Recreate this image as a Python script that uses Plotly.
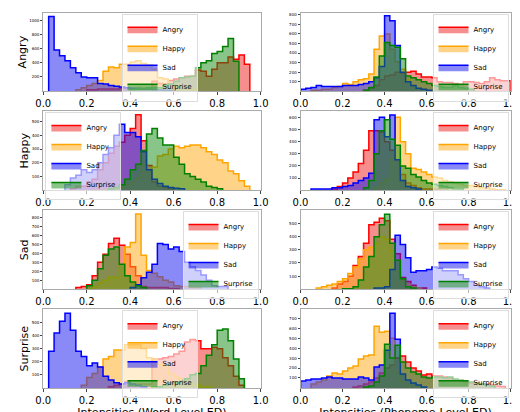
import plotly.graph_objects as go

W = 0.025
EMOTIONS = ["Angry", "Happy", "Sad", "Surprise"]
LINE = {"Angry": "red", "Happy": "orange", "Sad": "blue", "Surprise": "green"}
FILL = {"Angry": "rgba(240,30,30,0.5)", "Happy": "rgba(255,170,20,0.5)",
        "Sad": "rgba(20,20,240,0.5)", "Surprise": "rgba(20,140,20,0.5)"}

# (start, counts per 0.025 bin)
word_angry = {
    "Angry": (0.2, [20, 20, 30, 30, 30, 30, 40, 40, 40, 40, 30, 40, 140, 110, 100, 150, 170, 190, 210, 210, 300, 280, 210, 310, 400, 400, 480, 450, 510, 380]),
    "Happy": (0.15, [20, 50, 80, 110, 150, 280, 340, 330, 380, 380, 410, 430, 390, 370, 310, 190, 170, 100, 80, 60, 50, 30]),
    "Sad": (0.025, [1050, 580, 500, 430, 330, 260, 200, 190, 190, 110, 100, 80, 70, 60, 50, 40, 40, 30, 30, 20, 20, 15, 10]),
    "Surprise": (0.4, [20, 30, 40, 50, 50, 50, 80, 100, 140, 190, 200, 210, 330, 400, 430, 530, 560, 630, 740, 420]),
}
word_happy = {
    "Angry": (0.125, [10, 30, 30, 60, 80, 150, 200, 270, 320, 350, 400, 450, 550, 360, 180, 60, 30, 20, 10]),
    "Happy": (0.25, [5, 5, 10, 10, 20, 40, 60, 90, 190, 130, 170, 250, 260, 300, 320, 310, 320, 330, 330, 310, 280, 260, 220, 200, 140, 120, 70, 30]),
    "Sad": (0.1, [40, 90, 110, 150, 130, 150, 200, 260, 310, 400, 480, 420, 420, 390, 280, 150, 80, 50, 30, 20, 15, 10]),
    "Surprise": (0.3, [10, 20, 40, 80, 150, 190, 290, 410, 450, 380, 330, 330, 240, 190, 120, 100, 80, 60, 30, 20, 10]),
}
word_sad = {
    "Angry": (0.15, [20, 30, 50, 150, 300, 390, 510, 570, 490, 390, 250, 150, 30, 20, 20, 20, 20, 10, 10]),
    "Happy": (0.2, [10, 30, 70, 100, 140, 130, 280, 470, 520, 840, 380, 210, 180, 140, 100, 80, 40, 30, 30, 20, 20]),
    "Sad": (0.4, [20, 50, 130, 190, 280, 510, 500, 450, 470, 420, 300, 250, 210, 160, 100, 40, 30, 30]),
    "Surprise": (0.2, [40, 100, 230, 380, 450, 470, 280, 150, 80, 40, 20]),
}
word_surprise = {
    "Angry": (0.3, [10, 20, 30, 50, 30, 30, 30, 30, 220, 220, 230, 240, 260, 280, 350, 370, 360, 300, 300, 310, 300, 230, 170, 90, 20]),
    "Happy": (0.175, [20, 80, 110, 160, 220, 240, 290, 290, 330, 330, 330, 300, 230, 220, 180, 170, 110, 90, 70, 50, 30, 20, 10, 10]),
    "Sad": (0.025, [280, 420, 510, 570, 440, 280, 240, 170, 190, 160, 90, 60, 40, 30, 40, 30, 20, 10]),
    "Surprise": (0.5, [10, 10, 20, 40, 40, 50, 70, 100, 110, 170, 250, 330, 440, 450, 360, 220, 70]),
}
phon_angry = {
    "Angry": (0.3, [10, 30, 60, 120, 160, 170, 200, 190, 200, 210, 180, 150, 150, 140, 100, 90, 90, 80, 70, 100, 100, 90, 80, 100, 140, 120, 110, 110]),
    "Happy": (0.05, [10, 10, 20, 20, 40, 50, 80, 70, 100, 120, 130, 180, 440, 580, 600, 440, 310, 230, 120, 60, 30, 20]),
    "Sad": (0.0, [20, 30, 40, 60, 50, 50, 50, 50, 60, 60, 60, 70, 80, 100, 140, 260, 790, 740, 480, 200, 100, 60, 30, 20, 10]),
    "Surprise": (0.3, [10, 40, 150, 370, 510, 480, 460, 340, 160, 140, 120, 100, 80, 60, 50, 40, 40, 60, 40, 30, 20]),
}
phon_happy = {
    "Angry": (0.15, [10, 30, 60, 100, 150, 220, 330, 490, 490, 480, 400, 330, 250, 130, 60, 40, 20, 10, 10, 10, 10, 10]),
    "Happy": (0.35, [20, 60, 90, 270, 600, 400, 300, 180, 170, 150, 130, 110, 100, 80, 70, 60, 50, 40, 40, 30, 20, 20, 10, 5, 5]),
    "Sad": (0.05, [10, 10, 10, 10, 20, 20, 30, 40, 60, 80, 100, 140, 580, 600, 440, 620, 250, 80, 30, 20, 10]),
    "Surprise": (0.3, [20, 80, 300, 490, 580, 420, 370, 200, 180, 130, 110, 80, 60, 50, 40, 30, 20, 10, 10]),
}
phon_sad = {
    "Angry": (0.15, [10, 40, 60, 100, 180, 250, 350, 490, 510, 540, 520, 380, 270, 90, 60, 30, 10, 10]),
    "Happy": (0.075, [10, 20, 30, 40, 60, 80, 120, 170, 230, 300, 320, 350, 400, 380, 290, 140, 60, 40, 20, 10]),
    "Sad": (0.35, [10, 10, 20, 150, 410, 340, 240, 130, 140, 140, 150, 170, 160, 140, 140, 140, 110, 80, 60, 30, 20, 10]),
    "Surprise": (0.2, [5, 5, 20, 70, 170, 250, 400, 490, 570, 350, 220, 80, 20, 10]),
}
phon_surprise = {
    "Angry": (0.25, [10, 20, 40, 60, 100, 150, 200, 230, 300, 320, 260, 200, 170, 130, 140, 120, 120, 110, 100, 80, 70, 60, 50, 50, 40, 40, 30, 20, 15]),
    "Happy": (0.05, [40, 60, 80, 120, 150, 140, 170, 200, 220, 290, 320, 330, 620, 560, 570, 500, 160, 60, 30, 20, 10]),
    "Sad": (0.0, [70, 80, 90, 90, 100, 110, 100, 100, 90, 90, 90, 110, 100, 80, 210, 230, 380, 750, 490, 140, 80, 50, 30, 10]),
    "Surprise": (0.3, [10, 20, 60, 120, 440, 300, 430, 260, 200, 160, 140, 110, 100, 110, 110, 100, 110, 90, 80, 70, 60, 50, 40, 30, 20]),
}

panels = [
    (word_angry, 0, 0, "Angry", [200, 400, 600, 800, 1000], 1100, (0.36, 0.99, "left")),
    (phon_angry, 0, 1, None, [100, 200, 300, 400, 500, 600, 700, 800], 820, (0.99, 0.99, "right")),
    (word_happy, 1, 0, "Happy", [100, 200, 300, 400, 500], 575, (0.01, 0.99, "left")),
    (phon_happy, 1, 1, None, [100, 200, 300, 400, 500, 600], 650, (0.99, 0.99, "right")),
    (word_sad, 2, 0, "Sad", [100, 200, 300, 400, 500, 600, 700, 800], 880, (0.99, 0.99, "right")),
    (phon_sad, 2, 1, None, [100, 200, 300, 400, 500], 600, (0.99, 0.99, "right")),
    (word_surprise, 3, 0, "Surprise", [100, 200, 300, 400, 500], 600, (0.36, 0.99, "left")),
    (phon_surprise, 3, 1, None, [100, 200, 300, 400, 500, 600, 700], 790, (0.99, 0.99, "right")),
]

XDOM = [(0.035, 0.477), (0.558, 0.985)]
ROWS = [(0.8, 0.995), (0.553, 0.75), (0.306, 0.503), (0.06, 0.256)]

fig = go.Figure()
layout = {}
for k, (data, r, c, ylabel, yt, ymax, leg) in enumerate(panels):
    idx = k + 1
    sfx = "" if idx == 1 else str(idx)
    lname = "legend" if idx == 1 else "legend%d" % idx
    for e in EMOTIONS:
        s, vals = data[e]
        xs = [s] + [s + i * W for i in range(len(vals))] + [s + len(vals) * W]
        ys = [0] + list(vals) + [0]
        fig.add_trace(go.Scatter(x=xs, y=ys, mode="lines", line=dict(shape="hv", color=LINE[e], width=1.5),
                                 fill="tozeroy", fillcolor=FILL[e], name=e, legend=lname,
                                 xaxis="x" + sfx, yaxis="y" + sfx))
    d = XDOM[c]
    rr = ROWS[r]
    layout["xaxis" + sfx] = dict(domain=d, anchor="y" + sfx, range=[0, 1], tickvals=[0, 0.2, 0.4, 0.6, 0.8, 1.0],
                                 ticktext=["0.0", "0.2", "0.4", "0.6", "0.8", "1.0"], showline=True, mirror=True,
                                 linecolor="#aaaaaa", ticks="outside", ticklen=3, tickfont=dict(size=10, color="black"),
                                 showgrid=False, zeroline=False,
                                 title=dict(text=("Intensities (Word-Level ED)" if c == 0 else "Intensities (Phoneme-Level ED)") if r == 3 else None,
                                            font=dict(size=11), standoff=0))
    layout["yaxis" + sfx] = dict(domain=rr, anchor="x" + sfx, range=[0, ymax], tickvals=yt, showline=True, mirror=True,
                                 linecolor="#aaaaaa", ticks="outside", ticklen=2, tickfont=dict(size=4, color="black"),
                                 showgrid=False, zeroline=False,
                                 title=dict(text=ylabel, font=dict(size=11), standoff=0) if ylabel else None)
    lx = d[0] + leg[0] * (d[1] - d[0])
    ly = rr[0] + leg[1] * (rr[1] - rr[0])
    layout[lname] = dict(x=lx, y=ly, xanchor=leg[2], yanchor="top", bgcolor="rgba(255,255,255,0.6)",
                         bordercolor="#dddddd", borderwidth=1, font=dict(size=7), tracegroupgap=0,
                         itemwidth=30)

fig.update_layout(width=520, height=412, margin=dict(l=18, r=6, t=2, b=8), plot_bgcolor="white",
                  paper_bgcolor="white", font=dict(family="DejaVu Sans", color="black"), **layout)
fig.write_html("out.html")
